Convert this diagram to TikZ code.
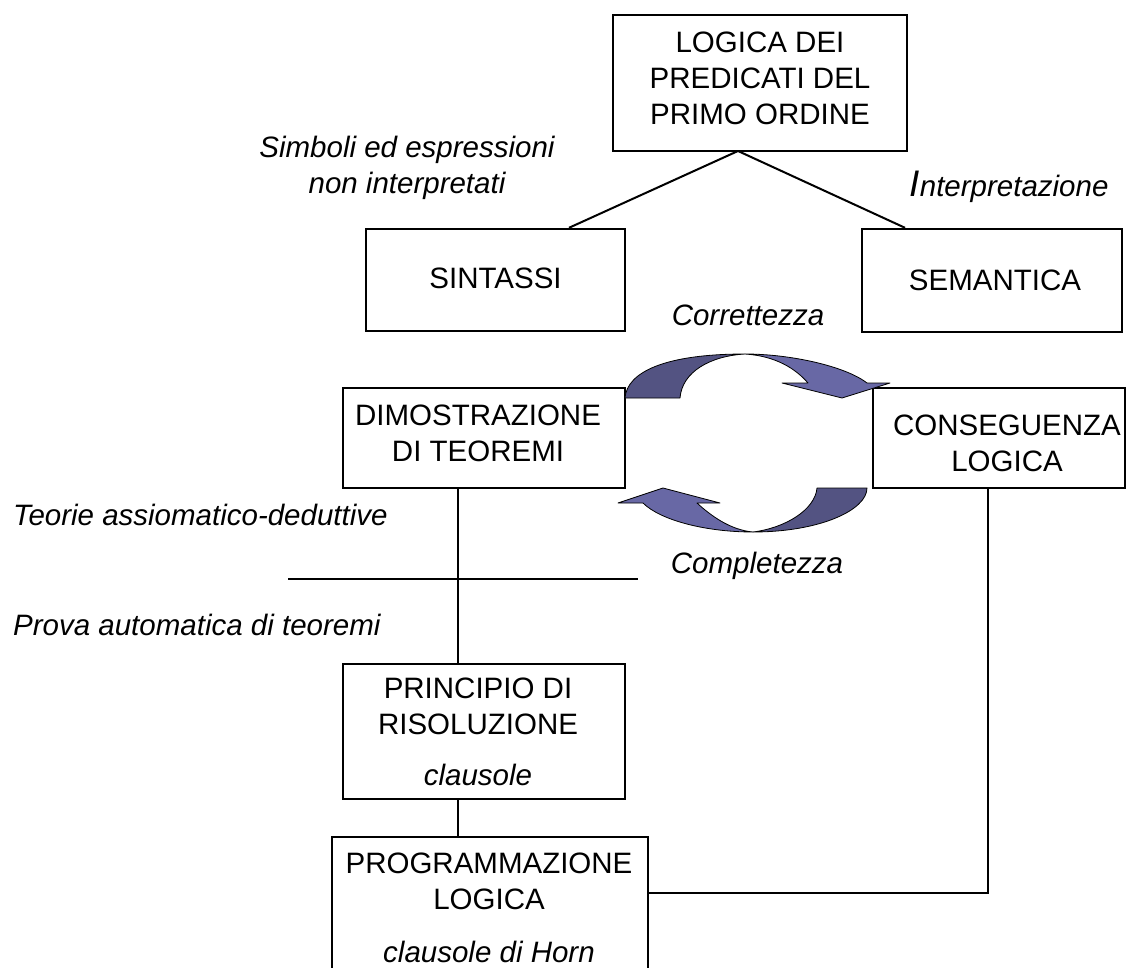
\documentclass[tikz,border=0pt]{standalone}
\usepackage{fontspec}
\setmainfont{Liberation Sans}
\usetikzlibrary{calc}
\definecolor{arrdark}{HTML}{535382}
\definecolor{arrlight}{HTML}{6868A5}
\begin{document}
\begin{tikzpicture}[x=1pt,y=-1pt,
  box/.style={draw=black, line width=2.4pt, rectangle, inner sep=0pt},
  txt/.style={font=\fontsize{29.5}{36}\selectfont, align=center, inner sep=0pt},
  itxt/.style={font=\fontsize{29.5}{36}\selectfont\itshape, align=center, inner sep=0pt},
  conn/.style={line width=2pt},
  sepline/.style={line width=1.2pt},
  band/.style={draw=black, line width=0.8pt, line join=round}]
\clip (0,0) rectangle (1127,968);
\fill[white] (0,0) rectangle (1127,968);

% boxes
\node[box, minimum width=294pt, minimum height=136pt] (logic) at (760,83) {};
\node[box, minimum width=259pt, minimum height=102pt] (sint) at (495.5,280) {};
\node[box, minimum width=260pt, minimum height=103pt] (sem) at (992,280.5) {};
\node[box, minimum width=282pt, minimum height=100pt] (dim) at (484,438) {};
\node[box, minimum width=252pt, minimum height=100pt] (cons) at (999,438) {};
\node[box, minimum width=282pt, minimum height=135pt] (princ) at (484,731.5) {};
\node[box, minimum width=316pt, minimum height=170pt] (prog) at (490,922) {};

% box texts
\node[txt, anchor=north] (logict) at (760,32) {LOGICA DEI\\PREDICATI DEL\\PRIMO ORDINE};
\node[txt] (sintt) at (495.5,278) {SINTASSI};
\node[txt] (semt) at (995,280) {SEMANTICA};
\node[txt, anchor=north] (dimt) at (478,405) {DIMOSTRAZIONE\\DI TEOREMI};
\node[txt, anchor=north] (const) at (1007,415) {CONSEGUENZA\\LOGICA};
\node[txt, anchor=north] (princt) at (478,678) {PRINCIPIO DI\\RISOLUZIONE\\[15pt]\textit{clausole}};
\node[txt, anchor=north] (progt) at (489,853) {PROGRAMMAZIONE\\LOGICA\\[17pt]\textit{clausole di Horn}};

% free labels
\node[itxt, anchor=north] (simb) at (407,136) {Simboli ed espressioni\\non interpretati};
\node[itxt, anchor=base] (interp) at (1009,197) {{\fontsize{37}{36}\selectfont I}nterpretazione};
\node[itxt, anchor=base] (corr) at (748,325) {Correttezza};
\node[itxt, anchor=base] (compl) at (757,573) {Completezza};
\node[itxt, anchor=base west] (teorie) at (13,525) {Teorie assiomatico-deduttive};
\node[itxt, anchor=base west] (prova) at (13,635) {Prova automatica di teoremi};

% connectors
\coordinate (apex) at (738,151);
\draw[conn] (apex) -- ($(sint.north)+(73.5,0)$);
\draw[conn] (apex) -- ($(sem.north)+(-87,0)$);
\coordinate (vx) at (458,0);
\coordinate (sepL) at (288,579);
\coordinate (sepR) at (638,579);
\draw[sepline] (sepL) -- (sepR);
\draw[conn] (dim.south -| vx) -- (princ.north -| vx);
\draw[conn] (princ.south -| vx) -- (prog.north -| vx);
\coordinate (corner) at (988,893);
\draw[conn] (prog.east |- corner) -- (corner) -- (cons.south -| corner);

% curved arrows (Correttezza)
\draw[band, fill=arrdark] (625,398) .. controls (627,372) and (665,354) .. (745,354)
  .. controls (710,356) and (682,372) .. (680,398) -- cycle;
\draw[band, fill=arrlight] (745,354) .. controls (790,354) and (845,366) .. (867,383)
  -- (890,383) -- (842,398) -- (782,383) -- (808,383)
  .. controls (795,368) and (775,356) .. (745,354) -- cycle;
% curved arrows (Completezza)
\draw[band, fill=arrdark] (867,488) .. controls (867,510) and (820,532) .. (753,532)
  .. controls (785,528) and (815,510) .. (817,488) -- cycle;
\draw[band, fill=arrlight] (753,532) .. controls (705,532) and (660,520) .. (643,503)
  -- (618,503) -- (663,488) -- (720,503) -- (697,503)
  .. controls (710,515) and (730,530) .. (753,532) -- cycle;
\end{tikzpicture}
\end{document}
